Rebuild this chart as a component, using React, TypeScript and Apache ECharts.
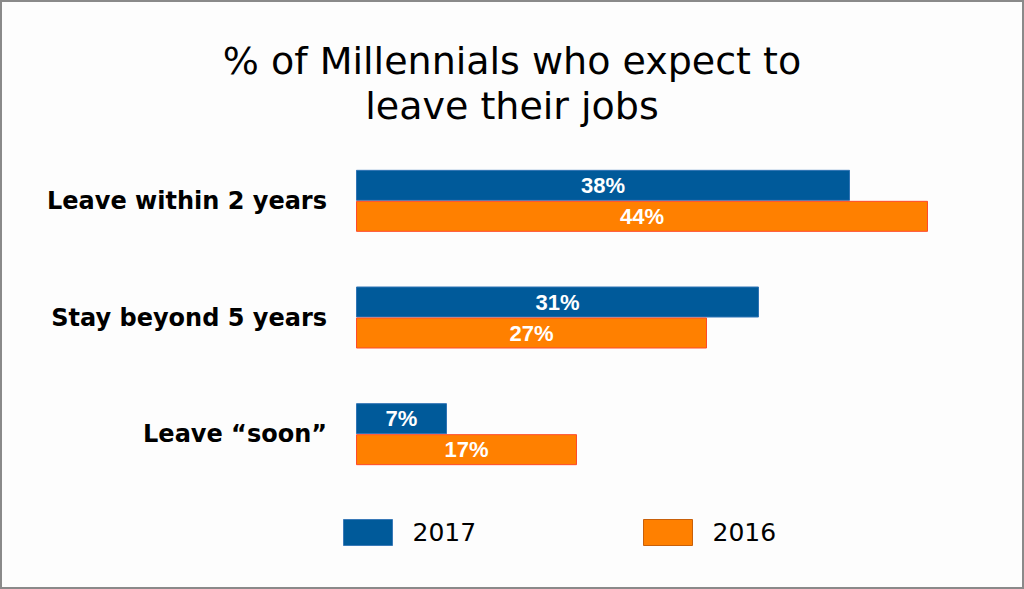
import React, { useEffect, useRef } from "react";
import * as echarts from "echarts";

const categories = ["Leave within 2 years", "Stay beyond 5 years", "Leave \u201csoon\u201d"];
const values2017 = [38, 31, 7];
const values2016 = [44, 27, 17];
const seriesNames = ["2017", "2016"];
const titleText = "% of Millennials who expect to\nleave their jobs";

export default function App() {
  const ref = useRef<HTMLDivElement>(null);
  useEffect(() => {
    if (!ref.current) return;
    const chart = echarts.init(ref.current, null, { renderer: "svg" });
    const labelCfg = {
      show: true,
      position: "inside",
      color: "#ffffff",
      fontFamily: "Liberation Sans, Arial, sans-serif",
      fontWeight: "bold",
      fontSize: 22,
      formatter: "{c}%",
    };
    chart.setOption({
      animation: false,
      backgroundColor: "#fdfdfd",
      title: {
        text: titleText,
        left: "center",
        top: 33,
        textStyle: {
          fontFamily: "DejaVu Sans",
          fontWeight: "normal",
          fontSize: 38,
          lineHeight: 45,
          color: "#000000",
        },
      },
      graphic: [
        {
          type: "rect",
          shape: { x: 1, y: 1, width: 1022, height: 587 },
          style: { fill: "none", stroke: "#8a8a8a", lineWidth: 2 },
          silent: true,
        },
      ],
      legend: [
        {
          data: [seriesNames[0]],
          left: 343,
          top: 519,
          padding: 0,
          icon: "rect",
          itemWidth: 49,
          itemHeight: 26,
          itemStyle: { borderColor: "#3a7ab8", borderWidth: 1 },
          textStyle: { fontFamily: "DejaVu Sans", fontSize: 25, color: "#000", padding: [0, 0, 0, 15] },
        },
        {
          data: [seriesNames[1]],
          left: 643,
          top: 519,
          padding: 0,
          icon: "rect",
          itemWidth: 49,
          itemHeight: 26,
          itemStyle: { borderColor: "#c8600a", borderWidth: 1 },
          textStyle: { fontFamily: "DejaVu Sans", fontSize: 25, color: "#000", padding: [0, 0, 0, 15] },
        },
      ],
      grid: { left: 356, top: 142.5, width: 650, height: 350, containLabel: false },
      xAxis: {
        type: "value",
        min: 0,
        max: 50,
        show: false,
      },
      yAxis: {
        type: "category",
        data: categories,
        inverse: true,
        axisLine: { show: false },
        axisTick: { show: false },
        axisLabel: {
          margin: 29,
          fontFamily: "DejaVu Sans",
          fontWeight: "bold",
          fontSize: 24,
          color: "#000",
        },
      },
      series: [
        {
          name: seriesNames[0],
          type: "bar",
          data: values2017,
          barWidth: 31,
          barGap: "0%",
          itemStyle: { color: "#005a9a", borderColor: "#2f74b5", borderWidth: 1 },
          label: labelCfg,
        },
        {
          name: seriesNames[1],
          type: "bar",
          data: values2016,
          barWidth: 31,
          barGap: "0%",
          itemStyle: { color: "#ff8000", borderColor: "#ff4a2a", borderWidth: 1 },
          label: labelCfg,
        },
      ],
    });
    return () => chart.dispose();
  }, []);
  return (
    <div style={{ position: "fixed", left: 0, top: 0, width: 1024, height: 589 }}>
      <div ref={ref} style={{ width: 1024, height: 589 }} />
    </div>
  );
}
